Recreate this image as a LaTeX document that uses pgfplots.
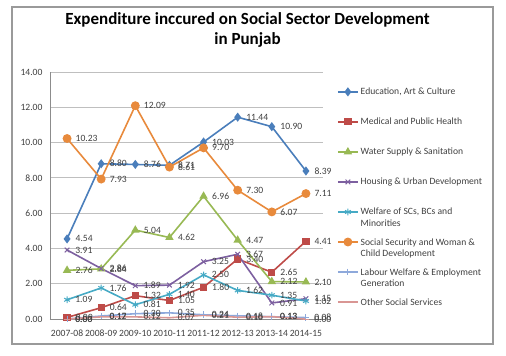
\documentclass[border=0pt]{standalone}
\usepackage{fontspec}
\setmainfont{Carlito}
\usepackage{pgfplots}
\usetikzlibrary{calc}
\pgfplotsset{compat=1.18}
\definecolor{cEdu}{HTML}{4A7EBB}
\definecolor{cMed}{HTML}{BE4B48}
\definecolor{cWat}{HTML}{98B954}
\definecolor{cHou}{HTML}{7D60A0}
\definecolor{cWel}{HTML}{46AAC5}
\definecolor{cSoc}{HTML}{E88A3C}
\definecolor{cLab}{HTML}{8EA9DB}
\definecolor{cOth}{HTML}{D99694}
\definecolor{cTxt}{HTML}{404040}
\definecolor{cFrame}{HTML}{9A9A9A}
\newcommand{\LE}[2]{\parbox[t]{128bp}{\raggedright\strut #1\\#2}}
\newcommand{\sm}{\fontsize{9.6bp}{11.5bp}\selectfont}
\begin{document}
\begin{tikzpicture}
\begin{axis}[
  name=ax, at={(0,0)}, anchor=south west,
  scale only axis, width=273bp, height=247bp,
  xmin=-0.5, xmax=7.5, ymin=0, ymax=14,
  xtick={0,...,7},
  xticklabels={2007-08,2008-09,2009-10,2010-11,2011-12,2012-13,2013-14,2014-15},
  ytick={0,2,...,14},
  /pgf/number format/assume math mode=true,
  yticklabel style={/pgf/number format/.cd, fixed, fixed zerofill, precision=2, /tikz/.cd, xshift=-4bp},
  xticklabel style={yshift=-7.5bp},
  ticklabel style={font=\sm, text=cTxt},
  major tick length=0pt,
  axis x line*=bottom, axis y line*=left,
  axis line style={color=black!45, line width=0.8bp},
  ymajorgrids, grid style={color=black!25, line width=0.8bp},
  clip=false,
  every axis plot/.append style={line width=1.6bp},
  nodes near coords={\pgfmathprintnumber[fixed,fixed zerofill,precision=2,assume math mode=true]{\pgfplotspointmeta}},
  every node near coord/.append style={anchor=west, xshift=4.5bp, font=\sm, text=cTxt},
  legend style={draw=none, fill=none, font=\sm, text=cTxt, at={(axis description cs:1.04,0.957)}, anchor=north west, cells={anchor=base west}, row sep=16.5bp},
  legend image code/.code={\draw[mark repeat=2,mark phase=2] plot coordinates {(0bp,3bp) (10bp,3bp) (20bp,3bp)};},
]
\addplot[color=cEdu, mark=diamond*, mark size=3.3bp, mark options={solid,fill=cEdu}] coordinates {(0,4.54) (1,8.80) (2,8.76) (3,8.71) (4,10.03) (5,11.44) (6,10.90) (7,8.39)};
\addlegendentry{\strut Education, Art \& Culture}
\addplot[color=cMed, mark=square*, mark size=2.8bp, mark options={solid,fill=cMed}] coordinates {(0,0.09) (1,0.64) (2,1.32) (3,1.05) (4,1.80) (5,3.40) (6,2.65) (7,4.41)};
\addlegendentry{\strut Medical and Public Health}
\addplot[color=cWat, mark=triangle*, mark size=3.3bp, mark options={solid,fill=cWat}] coordinates {(0,2.76) (1,2.84) (2,5.04) (3,4.62) (4,6.96) (5,4.47) (6,2.12) (7,2.10)};
\addlegendentry{\strut Water Supply \& Sanitation}
\addplot[color=cHou, mark=x, mark size=3.3bp, mark options={solid,line width=1bp}] coordinates {(0,3.91) (1,2.86) (2,1.89) (3,1.92) (4,3.25) (5,3.67) (6,0.91) (7,1.15)};
\addlegendentry{\strut Housing \& Urban Development}
\addplot[color=cWel, mark=asterisk, mark size=3.3bp, mark options={solid,line width=1bp}] coordinates {(0,1.09) (1,1.76) (2,0.81) (3,1.40) (4,2.50) (5,1.62) (6,1.35) (7,1.02)};
\addlegendentry{\LE{Welfare of SCs, BCs and}{Minorities}}
\addplot[color=cSoc, mark=*, mark size=3.6bp, mark options={solid,fill=cSoc}] coordinates {(0,10.23) (1,7.93) (2,12.09) (3,8.61) (4,9.70) (5,7.30) (6,6.07) (7,7.11)};
\addlegendentry{\LE{Social Security and Woman \&}{Child Development}}
\addplot[color=cLab, mark=+, mark size=3.3bp, mark options={solid,line width=1bp}] coordinates {(0,0.00) (1,0.17) (2,0.30) (3,0.35) (4,0.24) (5,0.18) (6,0.13) (7,0.08)};
\addlegendentry{\LE{Labour Welfare \& Employment}{Generation}}
\addplot[color=cOth, mark=-, mark size=3.3bp, mark options={solid,line width=1bp}] coordinates {(0,0.00) (1,0.12) (2,0.12) (3,0.07) (4,0.21) (5,0.10) (6,0.13) (7,0.00)};
\addlegendentry{\strut Other Social Services}
\end{axis}
\pgfresetboundingbox
\path[use as bounding box] ($(ax.south west)+(-50bp,-37bp)$) rectangle ($(ax.south west)+(456bp,319bp)$);
\draw[color=cFrame, line width=1.5bp] ($(ax.south west)+(-38bp,-25bp)$) rectangle ($(ax.south west)+(443bp,312bp)$);
\node[font=\fontsize{17bp}{20bp}\selectfont\bfseries, align=center] at ($(ax.south west)+(197.5bp,289bp)$) {Expenditure inccured on Social Sector Development\\in Punjab};
\end{tikzpicture}
\end{document}
